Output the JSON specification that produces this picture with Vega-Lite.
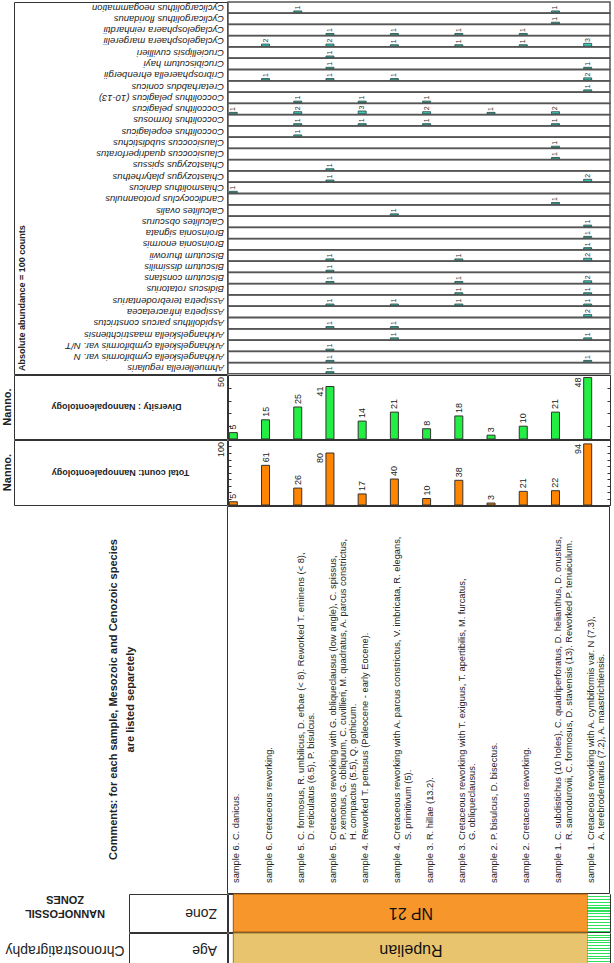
{
  "$schema": "https://vega.github.io/schema/vega-lite/v6.json",
  "background": "white",
  "padding": {"left": 1, "top": 1, "right": 1, "bottom": 0},
  "config": {
    "font": "Liberation Sans",
    "view": {"stroke": "#333", "strokeWidth": 1},
    "text": {"color": "#222"}
  },
  "datasets": {
    "abund": [
      {"species": "Cyclicargolithus neogammation", "sample": "s5a", "n": 1},
      {"species": "Cyclicargolithus neogammation", "sample": "s1a", "n": 1},
      {"species": "Cyclicargolithus floridanus", "sample": "s1a", "n": 1},
      {"species": "Cyclagelosphaera reinhardtii", "sample": "s5b", "n": 1},
      {"species": "Cyclagelosphaera reinhardtii", "sample": "s4b", "n": 1},
      {"species": "Cyclagelosphaera reinhardtii", "sample": "s3b", "n": 1},
      {"species": "Cyclagelosphaera reinhardtii", "sample": "s2b", "n": 1},
      {"species": "Cyclagelosphaera margerelii", "sample": "s6b", "n": 2},
      {"species": "Cyclagelosphaera margerelii", "sample": "s5b", "n": 2},
      {"species": "Cyclagelosphaera margerelii", "sample": "s4b", "n": 1},
      {"species": "Cyclagelosphaera margerelii", "sample": "s3b", "n": 1},
      {"species": "Cyclagelosphaera margerelii", "sample": "s2b", "n": 1},
      {"species": "Cyclagelosphaera margerelii", "sample": "s1b", "n": 3},
      {"species": "Cruciellipsis cuvillieri", "sample": "s5b", "n": 1},
      {"species": "Crucibiscutum hayi", "sample": "s5b", "n": 1},
      {"species": "Crucibiscutum hayi", "sample": "s1b", "n": 1},
      {"species": "Cribrosphaerella ehrenbergii", "sample": "s6b", "n": 1},
      {"species": "Cribrosphaerella ehrenbergii", "sample": "s5b", "n": 1},
      {"species": "Cribrosphaerella ehrenbergii", "sample": "s4b", "n": 1},
      {"species": "Cribrosphaerella ehrenbergii", "sample": "s1b", "n": 2},
      {"species": "Cretarhabdus conicus", "sample": "s1b", "n": 1},
      {"species": "Coccolithus pelagicus (10-13)", "sample": "s5a", "n": 1},
      {"species": "Coccolithus pelagicus (10-13)", "sample": "s4a", "n": 1},
      {"species": "Coccolithus pelagicus (10-13)", "sample": "s3a", "n": 1},
      {"species": "Coccolithus pelagicus", "sample": "s6a", "n": 1},
      {"species": "Coccolithus pelagicus", "sample": "s5a", "n": 2},
      {"species": "Coccolithus pelagicus", "sample": "s4a", "n": 3},
      {"species": "Coccolithus pelagicus", "sample": "s3a", "n": 2},
      {"species": "Coccolithus pelagicus", "sample": "s2a", "n": 1},
      {"species": "Coccolithus pelagicus", "sample": "s1a", "n": 2},
      {"species": "Coccolithus formosus", "sample": "s5a", "n": 1},
      {"species": "Coccolithus formosus", "sample": "s4a", "n": 1},
      {"species": "Coccolithus formosus", "sample": "s3a", "n": 1},
      {"species": "Coccolithus formosus", "sample": "s1a", "n": 1},
      {"species": "Coccolithus eopelagicus", "sample": "s5a", "n": 1},
      {"species": "Clausicoccus subdistichus", "sample": "s1a", "n": 1},
      {"species": "Clausicoccus quadriperforatus", "sample": "s1a", "n": 1},
      {"species": "Chiastozygus spissus", "sample": "s5b", "n": 1},
      {"species": "Chiastozygus platyrhethus", "sample": "s5b", "n": 1},
      {"species": "Chiastozygus platyrhethus", "sample": "s1b", "n": 2},
      {"species": "Chiasmolithus danicus", "sample": "s6a", "n": 1},
      {"species": "Candicocyclus protoannulus", "sample": "s1a", "n": 1},
      {"species": "Calculites ovalis", "sample": "s4b", "n": 1},
      {"species": "Calculites obscurus", "sample": "s1b", "n": 1},
      {"species": "Broinsonia signata", "sample": "s1b", "n": 1},
      {"species": "Broinsonia enormis", "sample": "s1b", "n": 1},
      {"species": "Biscutum thurowii", "sample": "s5b", "n": 1},
      {"species": "Biscutum thurowii", "sample": "s3b", "n": 1},
      {"species": "Biscutum thurowii", "sample": "s1b", "n": 2},
      {"species": "Biscutum dissimilis", "sample": "s5b", "n": 1},
      {"species": "Biscutum constans", "sample": "s5b", "n": 1},
      {"species": "Biscutum constans", "sample": "s3b", "n": 1},
      {"species": "Biscutum constans", "sample": "s1b", "n": 2},
      {"species": "Bidiscus rotatorius", "sample": "s3b", "n": 1},
      {"species": "Bidiscus rotatorius", "sample": "s1b", "n": 1},
      {"species": "Assipetra terebrodentarius", "sample": "s5b", "n": 1},
      {"species": "Assipetra terebrodentarius", "sample": "s4b", "n": 1},
      {"species": "Assipetra terebrodentarius", "sample": "s3b", "n": 1},
      {"species": "Assipetra terebrodentarius", "sample": "s1b", "n": 1},
      {"species": "Assipetra infracretacea", "sample": "s1b", "n": 2},
      {"species": "Aspidolithus parcus constrictus", "sample": "s5b", "n": 1},
      {"species": "Aspidolithus parcus constrictus", "sample": "s4b", "n": 1},
      {"species": "Arkhangelskiella maastrichtiensis", "sample": "s4b", "n": 1},
      {"species": "Arkhangelskiella maastrichtiensis", "sample": "s1b", "n": 1},
      {"species": "Arkhangelskiella cymbiformis var. N/T", "sample": "s5b", "n": 1},
      {"species": "Arkhangelskiella cymbiformis var. N", "sample": "s5b", "n": 1},
      {"species": "Arkhangelskiella cymbiformis var. N", "sample": "s1b", "n": 1},
      {"species": "Ahmuellerella regularis", "sample": "s5b", "n": 1}
    ],
    "samples": [
      {"sample": "s6a", "total": 5, "div": 5, "line1": "sample 6. C. danicus.", "rest": ""},
      {"sample": "s6b", "total": 61, "div": 15, "line1": "sample 6. Cretaceous reworking.", "rest": ""},
      {"sample": "s5a", "total": 26, "div": 25, "line1": "sample 5. C. formosus, R. umbilicus, D. erbae (< 8). Reworked T. eminens (< 8),", "rest": "D. reticulatus (6.5), P. bisulcus."},
      {"sample": "s5b", "total": 80, "div": 41, "line1": "sample 5. Cretaceous reworking with G. obliqueclausus (low angle), C. spissus,", "rest": "P. xenotus, G. obliquum, C. cuvillieri, M. quadratus, A. parcus constrictus,\nH. compactus (5.5), Q. gothicum."},
      {"sample": "s4a", "total": 17, "div": 14, "line1": "sample 4. Reworked T. pertusus (Paleocene - early Eocene).", "rest": ""},
      {"sample": "s4b", "total": 40, "div": 21, "line1": "sample 4. Cretaceous reworking with A. parcus constrictus, V. imbricata, R. elegans,", "rest": "S. primitivum (5)."},
      {"sample": "s3a", "total": 10, "div": 8, "line1": "sample 3. R. hillae (13.2).", "rest": ""},
      {"sample": "s3b", "total": 38, "div": 18, "line1": "sample 3. Cretaceous reworking with T. exiguus, T. apertibilis, M. furcatus,", "rest": "G. obliqueclausus."},
      {"sample": "s2a", "total": 3, "div": 3, "line1": "sample 2. P. bisulcus, D. bisectus.", "rest": ""},
      {"sample": "s2b", "total": 21, "div": 10, "line1": "sample 2. Cretaceous reworking.", "rest": ""},
      {"sample": "s1a", "total": 22, "div": 21, "line1": "sample 1. C. subdistichus (10 holes), C. quadriperforatus, D. helianthus, D. onustus,", "rest": "R. samodurovii, C. formosus, D. stavensis (13). Reworked P. tenuiculum."},
      {"sample": "s1b", "total": 94, "div": 48, "line1": "sample 1. Cretaceous reworking with A. cymbiformis var. N (7.3),", "rest": "A. terebrodentarius (7.2), A. maastrichtiensis."}
    ]
  },
  "spacing": -2,
  "vconcat": [
    {
      "spacing": -1,
      "hconcat": [
        {"width": 13, "height": 372, "data": {"values": [{"t": ""}]}, "mark": "text", "encoding": {"text": {"field": "t"}}},
        {
          "width": 213,
          "height": 372,
          "layer": [
            {
              "data": {"name": "abund"},
              "transform": [{"aggregate": [{"op": "count", "as": "k"}], "groupby": ["species"]}],
              "mark": {"type": "text", "angle": 180, "align": "left", "baseline": "middle", "dx": 3, "fontSize": 9.5, "fontStyle": "italic"},
              "encoding": {
                "x": {"datum": 1, "type": "quantitative", "scale": {"domain": [0, 1]}, "axis": null},
                "y": {"field": "species", "type": "nominal", "axis": null, "scale": {"type": "point", "padding": 0.5, "domain": ["Cyclicargolithus neogammation", "Cyclicargolithus floridanus", "Cyclagelosphaera reinhardtii", "Cyclagelosphaera margerelii", "Cruciellipsis cuvillieri", "Crucibiscutum hayi", "Cribrosphaerella ehrenbergii", "Cretarhabdus conicus", "Coccolithus pelagicus (10-13)", "Coccolithus pelagicus", "Coccolithus formosus", "Coccolithus eopelagicus", "Clausicoccus subdistichus", "Clausicoccus quadriperforatus", "Chiastozygus spissus", "Chiastozygus platyrhethus", "Chiasmolithus danicus", "Candicocyclus protoannulus", "Calculites ovalis", "Calculites obscurus", "Broinsonia signata", "Broinsonia enormis", "Biscutum thurowii", "Biscutum dissimilis", "Biscutum constans", "Bidiscus rotatorius", "Assipetra terebrodentarius", "Assipetra infracretacea", "Aspidolithus parcus constrictus", "Arkhangelskiella maastrichtiensis", "Arkhangelskiella cymbiformis var. N/T", "Arkhangelskiella cymbiformis var. N", "Ahmuellerella regularis"]}},
                "text": {"field": "species"}
              }
            },
            {
              "data": {"values": [{"t": "Absolute abundance = 100 counts"}]},
              "mark": {"type": "text", "angle": 270, "align": "left", "baseline": "top", "dx": 3, "dy": 4, "fontSize": 9, "fontWeight": "bold"},
              "encoding": {
                "x": {"datum": 0, "type": "quantitative", "scale": {"domain": [0, 1]}, "axis": null},
                "y": {"datum": 0, "type": "quantitative", "scale": {"domain": [0, 1]}, "axis": null},
                "text": {"field": "t"}
              }
            }
          ],
          "resolve": {"scale": {"y": "independent"}}
        },
        {
          "data": {"name": "abund"},
          "facet": {
            "row": {
              "field": "species", "type": "nominal", "title": null,
              "header": {"labels": false, "title": null},
              "sort": ["Cyclicargolithus neogammation", "Cyclicargolithus floridanus", "Cyclagelosphaera reinhardtii", "Cyclagelosphaera margerelii", "Cruciellipsis cuvillieri", "Crucibiscutum hayi", "Cribrosphaerella ehrenbergii", "Cretarhabdus conicus", "Coccolithus pelagicus (10-13)", "Coccolithus pelagicus", "Coccolithus formosus", "Coccolithus eopelagicus", "Clausicoccus subdistichus", "Clausicoccus quadriperforatus", "Chiastozygus spissus", "Chiastozygus platyrhethus", "Chiasmolithus danicus", "Candicocyclus protoannulus", "Calculites ovalis", "Calculites obscurus", "Broinsonia signata", "Broinsonia enormis", "Biscutum thurowii", "Biscutum dissimilis", "Biscutum constans", "Bidiscus rotatorius", "Assipetra terebrodentarius", "Assipetra infracretacea", "Aspidolithus parcus constrictus", "Arkhangelskiella maastrichtiensis", "Arkhangelskiella cymbiformis var. N/T", "Arkhangelskiella cymbiformis var. N", "Ahmuellerella regularis"]
            }
          },
          "spacing": 0.2727,
          "bounds": "flush",
          "spec": {
            "width": 382,
            "height": 11,
            "view": {"stroke": "#555", "strokeWidth": 1.5},
            "layer": [
              {
                "mark": {"type": "bar", "size": 8, "fill": "#3fd0bd", "stroke": "#25403c", "strokeWidth": 0.8},
                "encoding": {
                  "x": {"field": "sample", "type": "nominal", "axis": null, "scale": {"type": "point", "domain": ["s6a", "s6b", "s5a", "s5b", "s4a", "s4b", "s3a", "s3b", "s2a", "s2b", "s1a", "s1b"], "padding": 0.4286, "align": 0.192}},
                  "y": {"field": "n", "type": "quantitative", "scale": {"domain": [-1, 14]}, "axis": null},
                  "y2": {"datum": -1}
                }
              },
              {
                "mark": {"type": "text", "angle": 270, "align": "left", "baseline": "middle", "dx": 1.5, "fontSize": 7, "color": "#333"},
                "encoding": {
                  "x": {"field": "sample", "type": "nominal", "axis": null, "scale": {"type": "point", "domain": ["s6a", "s6b", "s5a", "s5b", "s4a", "s4b", "s3a", "s3b", "s2a", "s2b", "s1a", "s1b"], "padding": 0.4286, "align": 0.192}},
                  "y": {"field": "n", "type": "quantitative", "axis": null},
                  "text": {"field": "n"}
                }
              }
            ]
          }
        }
      ]
    },
    {
      "spacing": -1,
      "hconcat": [
        {"width": 13, "height": 64, "data": {"values": [{"t": "Nanno."}]}, "mark": {"type": "text", "angle": 270, "fontSize": 11, "fontWeight": "bold", "align": "center", "baseline": "middle"}, "encoding": {"text": {"field": "t"}}},
        {
          "width": 213, "height": 64,
          "layer": [
            {"data": {"values": [{"t": "Diversity : Nannopaleontology"}]}, "mark": {"type": "text", "angle": 180, "fontSize": 9, "fontWeight": "bold", "align": "center", "baseline": "middle", "dx": 4}, "encoding": {"text": {"field": "t"}}},
            {"data": {"values": [{"v": 50}]}, "mark": {"type": "text", "angle": 270, "fontSize": 9, "align": "right", "baseline": "bottom", "dy": -1, "dx": -2},
             "encoding": {"x": {"datum": 1, "type": "quantitative", "scale": {"domain": [0, 1]}, "axis": null}, "y": {"field": "v", "type": "quantitative", "scale": {"domain": [0, 50]}, "axis": null}, "text": {"field": "v"}}}
          ]
        },
        {
          "width": 382,
          "height": 64,
          "data": {"name": "samples"},
          "layer": [
            {
              "mark": {"type": "bar", "size": 8, "fill": "#22ee44", "stroke": "#333", "strokeWidth": 1},
              "encoding": {
                "x": {"field": "sample", "type": "nominal", "axis": null, "scale": {"type": "point", "domain": ["s6a", "s6b", "s5a", "s5b", "s4a", "s4b", "s3a", "s3b", "s2a", "s2b", "s1a", "s1b"], "padding": 0.4286, "align": 0.192}},
                "y": {"field": "div", "type": "quantitative", "scale": {"domain": [0, 50]}, "axis": {"orient": "left", "offset": -3, "tickSize": 3, "values": [0, 10, 20, 30, 40, 50], "labels": false, "domain": false, "grid": false, "title": null, "tickColor": "#333"}}
              }
            },
            {
              "transform": [{"filter": "datum.div < 35"}],
              "mark": {"type": "text", "angle": 270, "align": "left", "baseline": "middle", "dx": 3, "fontSize": 9},
              "encoding": {
                "x": {"field": "sample", "type": "nominal", "axis": null, "scale": {"type": "point", "domain": ["s6a", "s6b", "s5a", "s5b", "s4a", "s4b", "s3a", "s3b", "s2a", "s2b", "s1a", "s1b"], "padding": 0.4286, "align": 0.192}},
                "y": {"field": "div", "type": "quantitative", "axis": {"orient": "right", "offset": -3, "tickSize": 3, "values": [0, 10, 20, 30, 40, 50], "labels": false, "domain": false, "grid": false, "title": null, "tickColor": "#333"}},
                "text": {"field": "div"}
              }
            },
            {
              "transform": [{"filter": "datum.div >= 35"}],
              "mark": {"type": "text", "angle": 270, "align": "right", "baseline": "bottom", "dy": -5, "fontSize": 9},
              "encoding": {
                "x": {"field": "sample", "type": "nominal", "axis": null, "scale": {"type": "point", "domain": ["s6a", "s6b", "s5a", "s5b", "s4a", "s4b", "s3a", "s3b", "s2a", "s2b", "s1a", "s1b"], "padding": 0.4286, "align": 0.192}},
                "y": {"field": "div", "type": "quantitative", "axis": null},
                "text": {"field": "div"}
              }
            }
          ],
          "resolve": {"axis": {"y": "independent"}}
        }
      ]
    },
    {
      "spacing": -1,
      "hconcat": [
        {"width": 13, "height": 65, "data": {"values": [{"t": "Nanno."}]}, "mark": {"type": "text", "angle": 270, "fontSize": 11, "fontWeight": "bold", "align": "center", "baseline": "middle"}, "encoding": {"text": {"field": "t"}}},
        {
          "width": 213, "height": 65,
          "layer": [
            {"data": {"values": [{"t": "Total count: Nannopaleontology"}]}, "mark": {"type": "text", "angle": 180, "fontSize": 9, "fontWeight": "bold", "align": "center", "baseline": "middle"}, "encoding": {"text": {"field": "t"}}},
            {"data": {"values": [{"v": 100}]}, "mark": {"type": "text", "angle": 270, "fontSize": 9, "align": "right", "baseline": "bottom", "dy": -1, "dx": -2},
             "encoding": {"x": {"datum": 1, "type": "quantitative", "scale": {"domain": [0, 1]}, "axis": null}, "y": {"field": "v", "type": "quantitative", "scale": {"domain": [0, 100]}, "axis": null}, "text": {"field": "v"}}}
          ]
        },
        {
          "width": 382,
          "height": 65,
          "data": {"name": "samples"},
          "layer": [
            {
              "mark": {"type": "bar", "size": 8, "fill": "#ff8400", "stroke": "#333", "strokeWidth": 1},
              "encoding": {
                "x": {"field": "sample", "type": "nominal", "axis": null, "scale": {"type": "point", "domain": ["s6a", "s6b", "s5a", "s5b", "s4a", "s4b", "s3a", "s3b", "s2a", "s2b", "s1a", "s1b"], "padding": 0.4286, "align": 0.192}},
                "y": {"field": "total", "type": "quantitative", "scale": {"domain": [0, 100]}, "axis": {"orient": "left", "offset": -3, "tickSize": 3, "values": [0, 10, 20, 30, 40, 50, 60, 70, 80, 90, 100], "labels": false, "domain": false, "grid": false, "title": null, "tickColor": "#333"}}
              }
            },
            {
              "transform": [{"filter": "datum.total < 70"}],
              "mark": {"type": "text", "angle": 270, "align": "left", "baseline": "middle", "dx": 3, "fontSize": 9},
              "encoding": {
                "x": {"field": "sample", "type": "nominal", "axis": null, "scale": {"type": "point", "domain": ["s6a", "s6b", "s5a", "s5b", "s4a", "s4b", "s3a", "s3b", "s2a", "s2b", "s1a", "s1b"], "padding": 0.4286, "align": 0.192}},
                "y": {"field": "total", "type": "quantitative", "axis": {"orient": "right", "offset": -3, "tickSize": 3, "values": [0, 10, 20, 30, 40, 50, 60, 70, 80, 90, 100], "labels": false, "domain": false, "grid": false, "title": null, "tickColor": "#333"}},
                "text": {"field": "total"}
              }
            },
            {
              "transform": [{"filter": "datum.total >= 70"}],
              "mark": {"type": "text", "angle": 270, "align": "right", "baseline": "bottom", "dy": -5, "fontSize": 9},
              "encoding": {
                "x": {"field": "sample", "type": "nominal", "axis": null, "scale": {"type": "point", "domain": ["s6a", "s6b", "s5a", "s5b", "s4a", "s4b", "s3a", "s3b", "s2a", "s2b", "s1a", "s1b"], "padding": 0.4286, "align": 0.192}},
                "y": {"field": "total", "type": "quantitative", "axis": null},
                "text": {"field": "total"}
              }
            }
          ],
          "resolve": {"axis": {"y": "independent"}}
        }
      ]
    },
    {
      "spacing": -1,
      "hconcat": [
        {"width": 226, "height": 387, "data": {"values": [{"t": "Comments: for each sample, Mesozoic and Cenozoic species\nare listed separetely"}]}, "mark": {"type": "text", "angle": 270, "fontSize": 11, "fontWeight": "bold", "align": "center", "baseline": "middle", "lineBreak": "\n", "lineHeight": 17}, "encoding": {"text": {"field": "t"}}},
        {
          "width": 382,
          "height": 387,
          "data": {"name": "samples"},
          "layer": [
            {
              "mark": {"type": "text", "angle": 270, "align": "left", "baseline": "top", "dx": 10, "fontSize": 9.3},
              "encoding": {
                "x": {"field": "sample", "type": "nominal", "scale": {"type": "point", "domain": ["s6a", "s6b", "s5a", "s5b", "s4a", "s4b", "s3a", "s3b", "s2a", "s2b", "s1a", "s1b"], "padding": 0.4286, "align": 0.192}, "axis": {"orient": "bottom", "offset": -7, "tickSize": 7, "labels": false, "domain": false, "grid": false, "title": null, "tickColor": "#333"}},
                "y": {"datum": 0, "type": "quantitative", "scale": {"domain": [0, 1]}, "axis": null},
                "text": {"field": "line1"}
              }
            },
            {
              "mark": {"type": "text", "angle": 270, "align": "left", "baseline": "top", "dx": 53, "dy": 10.5, "fontSize": 9.3, "lineBreak": "\n", "lineHeight": 10},
              "encoding": {
                "x": {"field": "sample", "type": "nominal", "axis": null, "scale": {"type": "point", "domain": ["s6a", "s6b", "s5a", "s5b", "s4a", "s4b", "s3a", "s3b", "s2a", "s2b", "s1a", "s1b"], "padding": 0.4286, "align": 0.192}},
                "y": {"datum": 0, "type": "quantitative", "axis": null},
                "text": {"field": "rest"}
              }
            }
          ]
        }
      ]
    },
    {
      "spacing": -1,
      "hconcat": [
        {"width": 128, "height": 38, "data": {"values": [{"t": "NANNOFOSSIL\nZONES"}]}, "mark": {"type": "text", "angle": 180, "fontSize": 11, "fontWeight": "bold", "align": "center", "baseline": "middle", "lineBreak": "\n", "lineHeight": 14}, "encoding": {"text": {"field": "t"}}},
        {"width": 98, "height": 38, "data": {"values": [{"t": "Zone"}]}, "mark": {"type": "text", "angle": 180, "fontSize": 14, "align": "left", "baseline": "middle", "dx": 10}, "encoding": {"x": {"datum": 1, "type": "quantitative", "scale": {"domain": [0, 1]}, "axis": null}, "text": {"field": "t"}}},
        {
          "width": 382,
          "height": 38,
          "data": {"values": [{"zone": "NP 21", "from": "s6a", "to": "s1b"}]},
          "layer": [
            {
              "mark": {"type": "rect", "fill": "#f7972b", "stroke": "#a0520a", "strokeWidth": 1},
              "encoding": {
                "x": {"field": "from", "type": "nominal", "axis": null, "scale": {"type": "point", "domain": ["s6a", "s6b", "s5a", "s5b", "s4a", "s4b", "s3a", "s3b", "s2a", "s2b", "s1a", "s1b"], "padding": 0.4286, "align": 0.192}},
                "x2": {"field": "to"}
              }
            },
            {
              "mark": {"type": "rect", "fill": {"gradient": "linear", "x1": 0, "y1": 0, "x2": 0, "y2": 1, "stops": [
                {"offset": 0, "color": "white"}, {"offset": 0.046, "color": "white"}, {"offset": 0.046, "color": "#2ee05a"}, {"offset": 0.077, "color": "#2ee05a"},
                {"offset": 0.077, "color": "white"}, {"offset": 0.123, "color": "white"}, {"offset": 0.123, "color": "#2ee05a"}, {"offset": 0.154, "color": "#2ee05a"},
                {"offset": 0.154, "color": "white"}, {"offset": 0.2, "color": "white"}, {"offset": 0.2, "color": "#2ee05a"}, {"offset": 0.231, "color": "#2ee05a"},
                {"offset": 0.231, "color": "white"}, {"offset": 0.277, "color": "white"}, {"offset": 0.277, "color": "#2ee05a"}, {"offset": 0.308, "color": "#2ee05a"},
                {"offset": 0.308, "color": "white"}, {"offset": 0.354, "color": "white"}, {"offset": 0.354, "color": "#2ee05a"}, {"offset": 0.385, "color": "#2ee05a"},
                {"offset": 0.385, "color": "white"}, {"offset": 0.431, "color": "white"}, {"offset": 0.431, "color": "#2ee05a"}, {"offset": 0.462, "color": "#2ee05a"},
                {"offset": 0.462, "color": "white"}, {"offset": 0.508, "color": "white"}, {"offset": 0.508, "color": "#2ee05a"}, {"offset": 0.538, "color": "#2ee05a"},
                {"offset": 0.538, "color": "white"}, {"offset": 0.585, "color": "white"}, {"offset": 0.585, "color": "#2ee05a"}, {"offset": 0.615, "color": "#2ee05a"},
                {"offset": 0.615, "color": "white"}, {"offset": 0.662, "color": "white"}, {"offset": 0.662, "color": "#2ee05a"}, {"offset": 0.692, "color": "#2ee05a"},
                {"offset": 0.692, "color": "white"}, {"offset": 0.738, "color": "white"}, {"offset": 0.738, "color": "#2ee05a"}, {"offset": 0.769, "color": "#2ee05a"},
                {"offset": 0.769, "color": "white"}, {"offset": 0.815, "color": "white"}, {"offset": 0.815, "color": "#2ee05a"}, {"offset": 0.846, "color": "#2ee05a"},
                {"offset": 0.846, "color": "white"}, {"offset": 0.892, "color": "white"}, {"offset": 0.892, "color": "#2ee05a"}, {"offset": 0.923, "color": "#2ee05a"},
                {"offset": 0.923, "color": "white"}, {"offset": 0.969, "color": "white"}, {"offset": 0.969, "color": "#2ee05a"}, {"offset": 1, "color": "#2ee05a"}]}},
              "encoding": {
                "x": {"field": "to", "type": "nominal", "axis": null, "scale": {"type": "point", "domain": ["s6a", "s6b", "s5a", "s5b", "s4a", "s4b", "s3a", "s3b", "s2a", "s2b", "s1a", "s1b"], "padding": 0.4286, "align": 0.192}},
                "x2": {"value": "width"}
              }
            },
            {
              "mark": {"type": "text", "angle": 180, "fontSize": 16, "dx": 8, "color": "#111", "align": "center", "baseline": "middle"},
              "encoding": {"text": {"field": "zone"}}
            }
          ]
        }
      ]
    },
    {
      "spacing": -1,
      "hconcat": [
        {"width": 128, "height": 34, "data": {"values": [{"t": "Chronostratigraphy"}]}, "mark": {"type": "text", "angle": 180, "fontSize": 14, "align": "center", "baseline": "middle"}, "encoding": {"text": {"field": "t"}}},
        {"width": 98, "height": 34, "data": {"values": [{"t": "Age"}]}, "mark": {"type": "text", "angle": 180, "fontSize": 14, "align": "left", "baseline": "middle", "dx": 10}, "encoding": {"x": {"datum": 1, "type": "quantitative", "scale": {"domain": [0, 1]}, "axis": null}, "text": {"field": "t"}}},
        {
          "width": 382,
          "height": 34,
          "data": {"values": [{"age": "Rupelian", "from": "s6a", "to": "s1b"}]},
          "layer": [
            {
              "mark": {"type": "rect", "fill": "#e9c46f", "stroke": "#9a7a30", "strokeWidth": 1},
              "encoding": {
                "x": {"field": "from", "type": "nominal", "axis": null, "scale": {"type": "point", "domain": ["s6a", "s6b", "s5a", "s5b", "s4a", "s4b", "s3a", "s3b", "s2a", "s2b", "s1a", "s1b"], "padding": 0.4286, "align": 0.192}},
                "x2": {"field": "to"}
              }
            },
            {
              "mark": {"type": "rect", "fill": {"gradient": "linear", "x1": 0, "y1": 0, "x2": 0, "y2": 1, "stops": [
                {"offset": 0, "color": "white"}, {"offset": 0.046, "color": "white"}, {"offset": 0.046, "color": "#2ee05a"}, {"offset": 0.077, "color": "#2ee05a"},
                {"offset": 0.077, "color": "white"}, {"offset": 0.123, "color": "white"}, {"offset": 0.123, "color": "#2ee05a"}, {"offset": 0.154, "color": "#2ee05a"},
                {"offset": 0.154, "color": "white"}, {"offset": 0.2, "color": "white"}, {"offset": 0.2, "color": "#2ee05a"}, {"offset": 0.231, "color": "#2ee05a"},
                {"offset": 0.231, "color": "white"}, {"offset": 0.277, "color": "white"}, {"offset": 0.277, "color": "#2ee05a"}, {"offset": 0.308, "color": "#2ee05a"},
                {"offset": 0.308, "color": "white"}, {"offset": 0.354, "color": "white"}, {"offset": 0.354, "color": "#2ee05a"}, {"offset": 0.385, "color": "#2ee05a"},
                {"offset": 0.385, "color": "white"}, {"offset": 0.431, "color": "white"}, {"offset": 0.431, "color": "#2ee05a"}, {"offset": 0.462, "color": "#2ee05a"},
                {"offset": 0.462, "color": "white"}, {"offset": 0.508, "color": "white"}, {"offset": 0.508, "color": "#2ee05a"}, {"offset": 0.538, "color": "#2ee05a"},
                {"offset": 0.538, "color": "white"}, {"offset": 0.585, "color": "white"}, {"offset": 0.585, "color": "#2ee05a"}, {"offset": 0.615, "color": "#2ee05a"},
                {"offset": 0.615, "color": "white"}, {"offset": 0.662, "color": "white"}, {"offset": 0.662, "color": "#2ee05a"}, {"offset": 0.692, "color": "#2ee05a"},
                {"offset": 0.692, "color": "white"}, {"offset": 0.738, "color": "white"}, {"offset": 0.738, "color": "#2ee05a"}, {"offset": 0.769, "color": "#2ee05a"},
                {"offset": 0.769, "color": "white"}, {"offset": 0.815, "color": "white"}, {"offset": 0.815, "color": "#2ee05a"}, {"offset": 0.846, "color": "#2ee05a"},
                {"offset": 0.846, "color": "white"}, {"offset": 0.892, "color": "white"}, {"offset": 0.892, "color": "#2ee05a"}, {"offset": 0.923, "color": "#2ee05a"},
                {"offset": 0.923, "color": "white"}, {"offset": 0.969, "color": "white"}, {"offset": 0.969, "color": "#2ee05a"}, {"offset": 1, "color": "#2ee05a"}]}},
              "encoding": {
                "x": {"field": "to", "type": "nominal", "axis": null, "scale": {"type": "point", "domain": ["s6a", "s6b", "s5a", "s5b", "s4a", "s4b", "s3a", "s3b", "s2a", "s2b", "s1a", "s1b"], "padding": 0.4286, "align": 0.192}},
                "x2": {"value": "width"}
              }
            },
            {
              "mark": {"type": "text", "angle": 180, "fontSize": 16, "dx": 8, "color": "#111", "align": "center", "baseline": "middle"},
              "encoding": {"text": {"field": "age"}}
            }
          ]
        }
      ]
    }
  ]
}
